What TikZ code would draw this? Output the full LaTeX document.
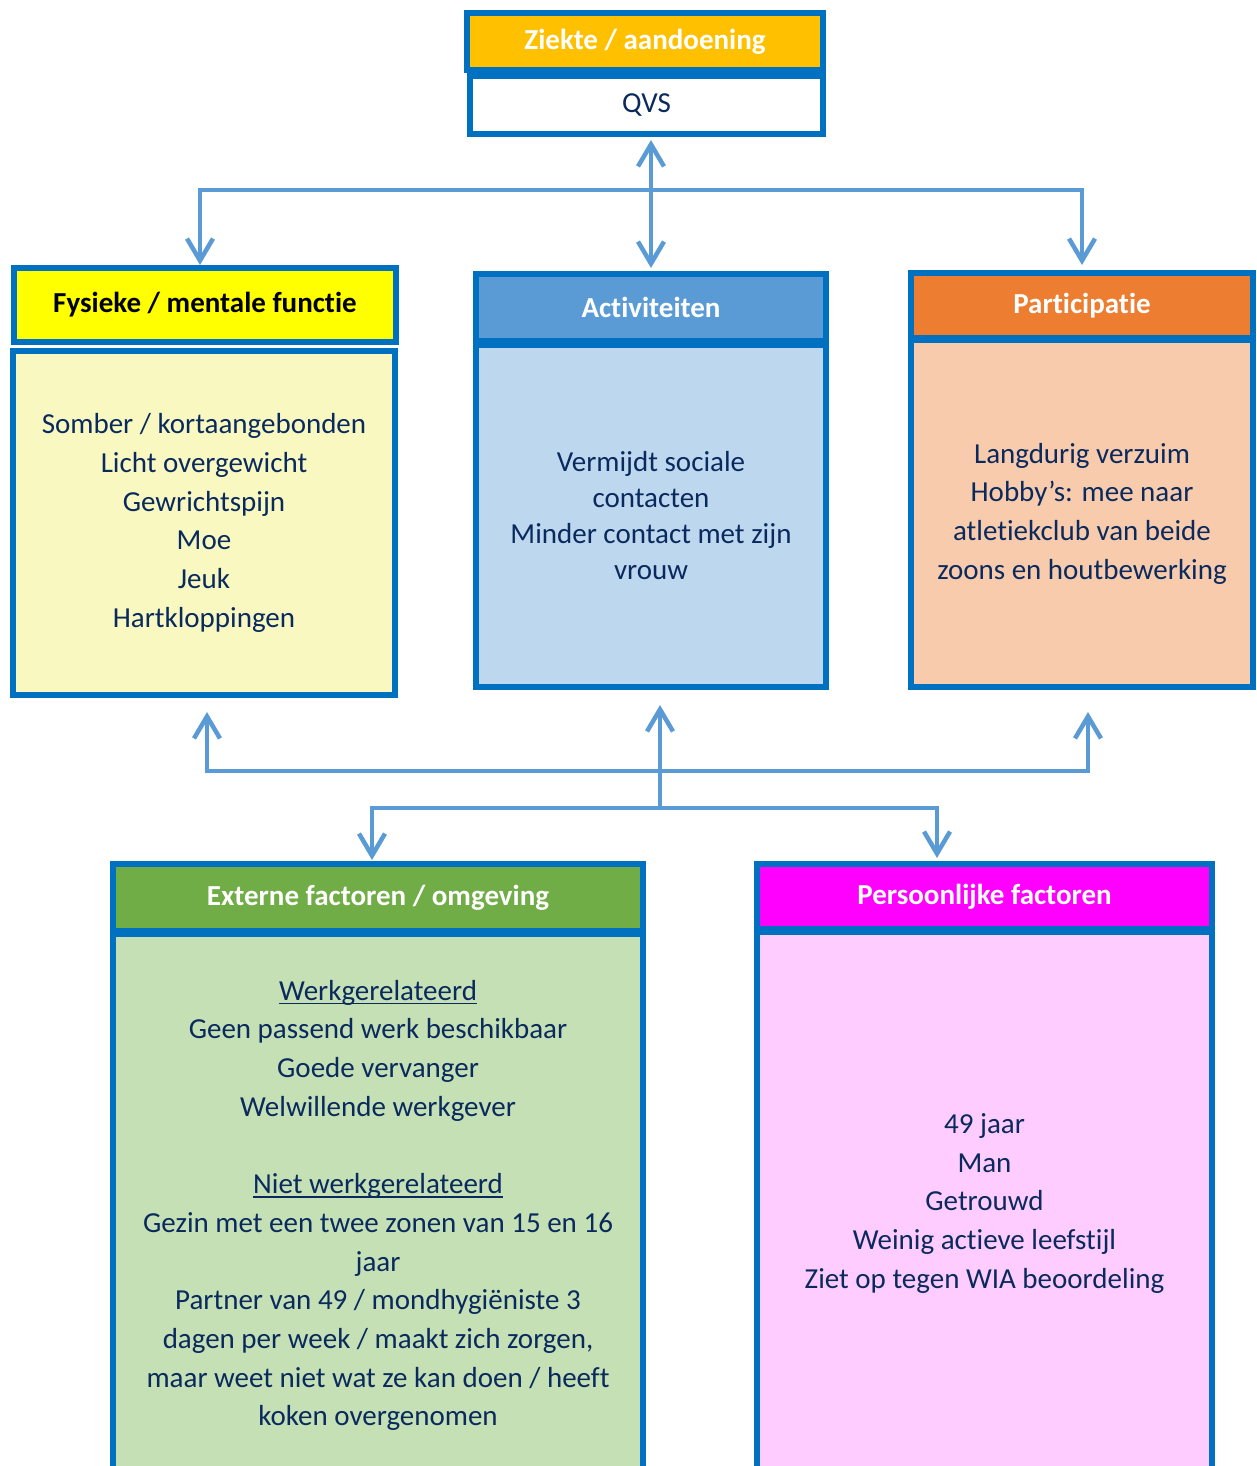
\documentclass[tikz,border=0pt]{standalone}
\usepackage{fontspec}
\setmainfont{Carlito}[Ligatures=NoCommon]
\usetikzlibrary{arrows.meta}
\definecolor{rand}{HTML}{0070C0}
\definecolor{pijlblauw}{HTML}{5B9BD5}
\definecolor{tekst}{HTML}{0A2A5E}
\definecolor{oranjegeel}{HTML}{FFC000}
\definecolor{geelkop}{HTML}{FFFF00}
\definecolor{geelvak}{HTML}{F8F8C0}
\definecolor{blauwkop}{HTML}{5B9BD5}
\definecolor{blauwvak}{HTML}{BDD7EE}
\definecolor{oranjekop}{HTML}{ED7D31}
\definecolor{oranjevak}{HTML}{F8CBAD}
\definecolor{groenkop}{HTML}{70AD47}
\definecolor{groenvak}{HTML}{C5E0B4}
\definecolor{rozekop}{HTML}{FF00FF}
\definecolor{rozevak}{HTML}{FFCCFF}
\newcommand{\onderstreep}[1]{\setbox0=\hbox{#1}\rlap{\rule[-4pt]{\wd0}{1.4pt}}\box0}

\begin{document}
\begin{tikzpicture}[x=1pt,y=-1pt,
    vak/.style={draw=rand,line width=5.5pt,anchor=north west,inner sep=0pt,outer sep=0pt,align=center,text=tekst,font=\fontsize{29}{38.7}\selectfont},
    kop/.style={vak,font=\fontsize{29}{38.7}\selectfont\bfseries,text=white},
    pijl/.style={draw=pijlblauw,line width=4.5pt,>={Straight Barb[length=22pt,width=26pt]}}]
  \useasboundingbox (0,0) rectangle (1256,1466);
  \clip (0,0) rectangle (1256,1466);
  \node[kop,fill=oranjegeel,minimum width=356pt,minimum height=57pt] (ziekte) at (467,13) {Ziekte / aandoening};
  \node[vak,fill=white,minimum width=353pt,minimum height=58pt] (qvs) at (470,76) {QVS};
  \node[kop,fill=geelkop,text=black,minimum width=382pt,minimum height=74pt] (fysieke) at (14,268) {Fysieke / mentale functie};
  \node[vak,fill=geelvak,minimum width=382pt,minimum height=344pt] (fysieke-vak) at (13,351)
    {Somber / kortaangebonden\\Licht overgewicht\\Gewrichtspijn\\Moe\\Jeuk\\Hartkloppingen};
  \node[kop,fill=blauwkop,minimum width=350pt,minimum height=67pt] (activiteiten) at (476,274) {Activiteiten};
  \node[vak,fill=blauwvak,minimum width=350pt,minimum height=342pt] (activiteiten-vak) at (476,345)
    {Vermijdt sociale\\[-2.7pt]contacten\\[-2.7pt]Minder contact met zijn\\[-2.7pt]vrouw};
  \node[kop,fill=oranjekop,minimum width=342pt,minimum height=65pt] (participatie) at (911,273) {Participatie};
  \node[vak,fill=oranjevak,minimum width=342pt,minimum height=347pt] (participatie-vak) at (911,340)
    {Langdurig verzuim\\Hobby’s: mee naar\\atletiekclub van beide\\zoons en houtbewerking};
  \node[kop,fill=groenkop,minimum width=530pt,minimum height=67pt] (extern) at (113,864) {Externe factoren / omgeving};
  \node[vak,fill=groenvak,minimum width=530pt,minimum height=543pt] (extern-vak) at (113,934)
    {\onderstreep{Werkgerelateerd}\\Geen passend werk beschikbaar\\Goede vervanger\\Welwillende werkgever\\[38.7pt]
     \onderstreep{Niet werkgerelateerd}\\Gezin met een twee zonen van 15 en 16\\jaar\\Partner van 49 / mondhygiëniste 3\\
     dagen per week / maakt zich zorgen,\\maar weet niet wat ze kan doen / heeft\\koken overgenomen};
  \node[kop,fill=rozekop,minimum width=455pt,minimum height=65pt] (persoonlijk) at (757,864) {Persoonlijke factoren};
  \node[vak,fill=rozevak,minimum width=455pt,minimum height=543pt] (persoonlijk-vak) at (757,932)
    {49 jaar\\Man\\Getrouwd\\Weinig actieve leefstijl\\Ziet op tegen WIA beoordeling};

  \coordinate (boven) at (650,190);
  \coordinate (midden) at (660,771);
  \coordinate (onder) at (660,808);
  \draw[pijl,<->,shorten <=6pt,shorten >=6pt] (activiteiten.north |- qvs.south) -- (activiteiten.north);
  \draw[pijl,->,shorten >=3pt] (boven) -| ([xshift=-5pt]fysieke.north);
  \draw[pijl,->,shorten >=8pt] (boven) -| (participatie.north);
  \draw[pijl,->,shorten >=18pt] (onder) -- (onder |- activiteiten-vak.south);
  \draw[pijl,->,shorten >=17pt] (midden) -| ([xshift=3pt]fysieke-vak.south);
  \draw[pijl,->,shorten >=25pt] (midden) -| ([xshift=6pt]participatie-vak.south);
  \draw[pijl,->,shorten >=4pt] (onder) -| ([xshift=-6pt]extern.north);
  \draw[pijl,->,shorten >=6pt] (onder) -| ([xshift=-47.5pt]persoonlijk.north);
\end{tikzpicture}
\end{document}
